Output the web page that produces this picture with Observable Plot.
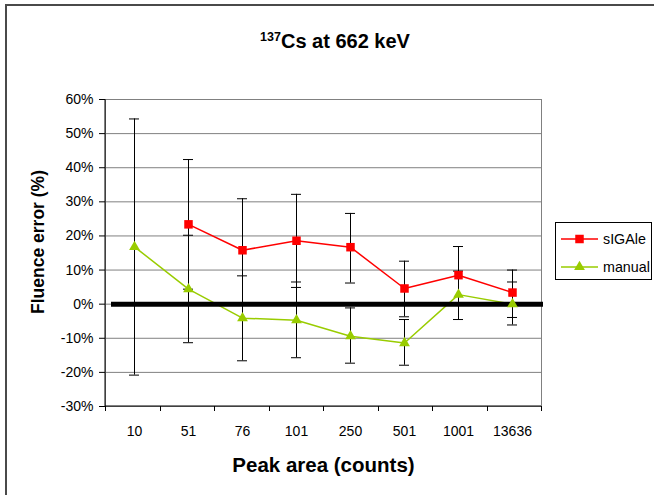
<!DOCTYPE html>
<html>
<head>
<meta charset="utf-8">
<script src="https://cdn.jsdelivr.net/npm/d3@7"></script>
<script src="https://cdn.jsdelivr.net/npm/@observablehq/plot@0.6"></script>
<style>
  body { margin:0; width:654px; height:495px; overflow:hidden; position:relative; background:#fff; font-family: Arial, "Liberation Sans", sans-serif; }
  #border { position:absolute; left:5px; top:4px; width:900px; height:900px; border:2px solid #4a4a4a; }
  #chart { position:absolute; left:0; top:0; }
  #title { position:absolute; left:16px; width:638px; top:31px; text-align:center; font-weight:bold; font-size:20px; line-height:20px; color:#000; }
  #title sup { font-size:12.5px; vertical-align: 7px; line-height:0; }
  #legend { position:absolute; left:555px; top:222px; }
</style>
</head>
<body>
<div id="border"></div>
<div id="chart"></div>
<div id="title"><sup>137</sup>Cs at 662 keV</div>
<div id="legend"></div>
<script>
// ---- data ----
const categories = ["10", "51", "76", "101", "250", "501", "1001", "13636"];
const seriesNames = ["sIGAle", "manual"];
const seriesColors = ["#ff0000", "#99cc00"];
const sigaleValue = [null, 23.4, 15.8, 18.6, 16.7, 4.6, 8.5, 3.4];
const sigaleLow   = [null, 4.4, 0.2, 4.9, 6.2, -3.7, 0.1, -3.9];
const sigaleHigh  = [null, 42.4, 30.9, 32.2, 26.6, 12.6, 16.9, 10.0];
const manualValue = [16.8, 4.4, -4.1, -4.7, -9.4, -11.4, 2.8, 0.0];
const manualLow   = [-20.8, -11.3, -16.6, -15.7, -17.3, -17.9, -4.5, -6.1];
const manualHigh  = [54.3, 20.2, 8.3, 6.5, -1.1, -4.5, 9.7, 6.5];
const yTicks = [-30, -20, -10, 0, 10, 20, 30, 40, 50, 60];

// ---- table ----
const rows = [];
categories.forEach((c, i) => {
  if (sigaleValue[i] != null) rows.push({cat: c, series: "sIGAle", v: sigaleValue[i], lo: sigaleLow[i], hi: sigaleHigh[i]});
});
categories.forEach((c, i) => {
  rows.push({cat: c, series: "manual", v: manualValue[i], lo: manualLow[i], hi: manualHigh[i]});
});
const sig = rows.filter(d => d.series === "sIGAle");
const man = rows.filter(d => d.series === "manual");

// custom mark: x-axis boundary ticks + left & bottom axis lines
function axisLines(index, scales, values, dim) {
  const g = d3.create("svg:g");
  const x0 = dim.marginLeft, x1 = dim.width - dim.marginRight;
  const yb = dim.height - dim.marginBottom, yt = dim.marginTop;
  const bw = (x1 - x0) / categories.length;
  g.append("line").attr("x1", x0).attr("x2", x0).attr("y1", yt).attr("y2", yb).attr("stroke", "#000");
  g.append("line").attr("x1", x0).attr("x2", x1).attr("y1", yb).attr("y2", yb).attr("stroke", "#000");
  for (let i = 0; i <= categories.length; i++) {
    const x = Math.round(x0 + i * bw) + 0.5;
    g.append("line").attr("x1", x).attr("x2", x).attr("y1", yb).attr("y2", yb + 5).attr("stroke", "#000");
  }
  return g.node();
}

const chart = Plot.plot({
  width: 654,
  height: 495,
  marginLeft: 105,
  marginRight: 113,
  marginTop: 99,
  marginBottom: 89,
  style: {fontFamily: "Arial, 'Liberation Sans', sans-serif", fontSize: "14px", color: "#000", background: "transparent"},
  x: {type: "band", domain: categories, padding: 0},
  y: {domain: [-30, 60]},
  marks: [
    Plot.gridY(yTicks.filter(t => t > -30), {stroke: "#808080", strokeOpacity: 1}),
    Plot.frame({stroke: "#808080"}),
    axisLines,
    Plot.axisY({ticks: yTicks, tickFormat: d => d + "%", tickSize: 6, tickPadding: 6, label: null, fontSize: 14}),
    Plot.axisX({tickSize: 0, tickPadding: 20, label: null, fontSize: 14}),
    // error bars
    Plot.ruleX(rows, {x: "cat", y1: "lo", y2: "hi", stroke: "#000", strokeWidth: 1}),
    Plot.tickY(rows, {x: "cat", y: "lo", stroke: "#000", insetLeft: 22, insetRight: 22}),
    Plot.tickY(rows, {x: "cat", y: "hi", stroke: "#000", insetLeft: 22, insetRight: 22}),
    // series
    Plot.line(sig, {x: "cat", y: "v", stroke: seriesColors[0], strokeWidth: 1.5}),
    Plot.line(man, {x: "cat", y: "v", stroke: seriesColors[1], strokeWidth: 1.5}),
    Plot.ruleY([0], {stroke: "#000", strokeWidth: 5, insetLeft: 6, insetRight: -2}),
    Plot.dot(sig, {x: "cat", y: "v", symbol: "square", r: 4.8, fill: seriesColors[0], stroke: "none"}),
    Plot.dot(man, {x: "cat", y: "v", symbol: "triangle", r: 4, fill: seriesColors[1], stroke: "none"}),
    // axis titles
    Plot.text(["Fluence error (%)"], {frameAnchor: "left", textAnchor: "middle", rotate: -90, dx: -67, dy: -11, fontSize: 17.5, fontWeight: "bold"}),
    Plot.text(["Peak area (counts)"], {frameAnchor: "bottom", dy: 65, fontSize: 20.5, fontWeight: "bold"})
  ]
});
document.getElementById("chart").appendChild(chart);

// ---- legend ----
const lg = d3.select("#legend").append("svg").attr("width", 99).attr("height", 59);
lg.append("rect").attr("x", 0.5).attr("y", 0.5).attr("width", 96).attr("height", 57).attr("fill", "#fff").attr("stroke", "#000");
const symbols = [d3.symbolSquare, d3.symbolTriangle];
const sizes = [Math.PI * 4.8 * 4.8, Math.PI * 4 * 4];
seriesNames.forEach((name, i) => {
  const y = 17 + i * 28;
  lg.append("line").attr("x1", 6).attr("x2", 43).attr("y1", y).attr("y2", y).attr("stroke", seriesColors[i]).attr("stroke-width", 1.5);
  lg.append("path").attr("d", d3.symbol(symbols[i], sizes[i])()).attr("transform", `translate(24.5,${y})`).attr("fill", seriesColors[i]);
  lg.append("text").attr("x", 48).attr("y", y).attr("dy", "0.35em").attr("font-size", 14.3).attr("font-family", "Arial, 'Liberation Sans', sans-serif").text(name);
});
</script>
</body>
</html>
